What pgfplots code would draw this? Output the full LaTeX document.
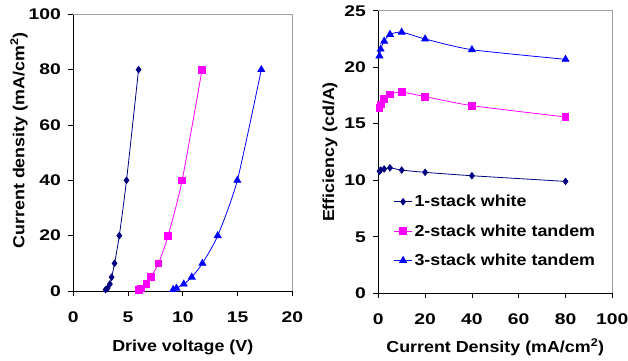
\documentclass[border=0pt]{standalone}
\usepackage{pgfplots}
\pgfplotsset{compat=1.18}
\usepackage{fontspec}
\setmainfont{Liberation Sans}
\newfontfamily\labfont{Liberation Sans}[FakeStretch=1.12]
\newfontfamily\tickfont{Liberation Sans}[FakeStretch=1.25]
\definecolor{navy}{RGB}{0,0,128}
\definecolor{mag}{RGB}{255,0,255}
\definecolor{blu}{RGB}{0,0,255}
\definecolor{frame}{RGB}{160,160,160}
\pgfplotsset{
  myaxis/.style={
    scale only axis,
    anchor=south west,
    axis lines=left,
    axis line style={-, black, line width=0.8bp},
    tick align=outside,
    major tick length=5bp,
    tick style={black, line width=0.8bp},
    /pgf/number format/assume math mode=true,
    tick label style={font=\tickfont\bfseries\fontsize{15.5}{15.5}\selectfont},
    xticklabel style={yshift=-12bp},
    yticklabel style={xshift=-4bp},
    label style={font=\labfont\bfseries\fontsize{16}{16}\selectfont},
    xtick pos=bottom, ytick pos=left,
  },
  s1/.style={navy, line width=0.8bp, mark=diamond*, mark size=3.2bp, mark options={fill=navy, draw=navy}, smooth, tension=0.4},
  s2/.style={mag, line width=0.8bp, mark=square*, mark size=3.3bp, mark options={fill=mag, draw=mag}, smooth, tension=0.4},
  s3/.style={blu, line width=0.8bp, mark=triangle*, mark size=3.9bp, mark options={fill=blu, draw=blu}, smooth, tension=0.4},
}
\begin{document}
\begin{tikzpicture}
\useasboundingbox (0,0) rectangle (628bp,361bp);
\begin{axis}[myaxis,
  at={(73.3bp,70bp)}, width=219bp, height=276.7bp,
  xmin=0, xmax=20, ymin=0, ymax=100,
  xtick={0,5,10,15,20}, ytick={0,20,40,60,80,100},
  xlabel={Drive voltage (V)},
  ylabel={Current density (mA/cm\textsuperscript{2})},
  xlabel style={at={(axis description cs:0.5,-0.22)}, anchor=base},
  ylabel style={at={(axis description cs:-0.248,0.544)}, anchor=center, rotate=0},
  clip=false,
]
\draw[frame, line width=0.8bp] (rel axis cs:0,1) -- (rel axis cs:1,1) -- (rel axis cs:1,0);
\addplot[s1] coordinates {(2.95,0.5)(3.13,1)(3.34,2.5)(3.5,5)(3.77,10)(4.2,20)(4.86,40)(5.96,80)};
\addplot[s2] coordinates {(5.99,0.5)(6.2,1)(6.66,2.5)(7.08,5)(7.78,10)(8.66,20)(9.94,40)(11.76,80)};
\addplot[s3] coordinates {(9.12,0.5)(9.42,1)(10.09,2.5)(10.82,5)(11.79,10)(13.19,20)(14.98,40)(17.17,80)};
\end{axis}
\begin{axis}[myaxis,
  at={(378.3bp,67.7bp)}, width=234bp, height=282.6bp,
  xmin=0, xmax=100, ymin=0, ymax=25,
  xtick={0,20,40,60,80,100}, ytick={0,5,10,15,20,25},
  xlabel={Current Density (mA/cm\textsuperscript{2})},
  ylabel={Efficiency (cd/A)},
  xlabel style={at={(axis description cs:0.5,-0.21)}, anchor=base},
  ylabel style={at={(axis description cs:-0.206,0.5)}, anchor=center},
  clip=false,
  legend style={at={(axis cs:6.5,8.87)}, anchor=north west, draw=none, fill=none,
    inner sep=0pt, row sep=12.3bp,
    font=\labfont\bfseries\fontsize{16}{16}\selectfont},
  legend cell align=left,
  legend image code/.code={\draw[mark repeat=2,mark phase=2] plot coordinates {(0bp,0bp)(9bp,0bp)(18bp,0bp)};},
]
\draw[frame, line width=0.8bp] (rel axis cs:0,1) -- (rel axis cs:1,1) -- (rel axis cs:1,0);
\addplot[s1] coordinates {(0.5,10.8)(1,10.9)(2.5,11.0)(5,11.1)(10,10.9)(20,10.7)(40,10.4)(80,9.9)};
\addlegendentry{1-stack white}
\addplot[s2] coordinates {(0.5,16.4)(1,16.7)(2.5,17.2)(5,17.6)(10,17.8)(20,17.4)(40,16.6)(80,15.6)};
\addlegendentry{2-stack white tandem}
\addplot[s3] coordinates {(0.5,21.0)(1,21.6)(2.5,22.3)(5,22.9)(10,23.1)(20,22.5)(40,21.55)(80,20.7)};
\addlegendentry{3-stack white tandem}
\end{axis}
\end{tikzpicture}
\end{document}
